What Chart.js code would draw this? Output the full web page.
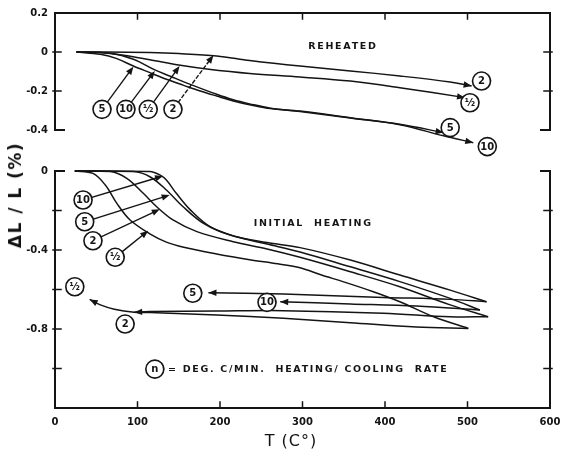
<!DOCTYPE html>
<html>
<head>
<meta charset="utf-8">
<script src="https://cdn.jsdelivr.net/npm/chart.js@4.4.0/dist/chart.umd.min.js"></script>
<style>
  html, body { margin: 0; padding: 0; background: #fff; }
  #wrap { position: relative; width: 563px; height: 459px; overflow: hidden; }
  canvas { position: absolute; left: 0; }
  #c-top { top: 0; }
  #c-bot { top: 150px; }
  .ttl { position: absolute; color: #111; white-space: nowrap; font-family: "DejaVu Sans", sans-serif; }
  #ytitle { left: 15px; top: 195px; transform: translate(-50%, -50%) rotate(-90deg); font-weight: bold; font-size: 17px; letter-spacing: 1.5px; }
  #xtitle { left: 291px; top: 440px; transform: translate(-50%, -50%); font-size: 16px; letter-spacing: 1px; }
</style>
</head>
<body>
<div id="wrap">
  <canvas id="c-top" width="563" height="170" style="width:563px;height:170px"></canvas>
  <canvas id="c-bot" width="563" height="309" style="width:563px;height:309px"></canvas>
  <div class="ttl" id="ytitle">ΔL / L (%)</div>
  <div class="ttl" id="xtitle">T (C°)</div>
</div>
<script>
"use strict";

// ── Upper panel: reheated (T in °C, ΔL/L in %) ──────────────────────────────
const RH2_T    = [26, 60, 115, 150, 196, 236, 297, 358, 418, 479, 505];
const RH2_V    = [0, 0, -0.003, -0.008, -0.02, -0.043, -0.072, -0.097, -0.123, -0.154, -0.174];
const RHHALF_T = [26, 55, 83, 115, 152, 184, 236, 297, 358, 418, 497];
const RHHALF_V = [0, -0.003, -0.017, -0.04, -0.068, -0.087, -0.11, -0.128, -0.149, -0.183, -0.234];
const RH5_T    = [26, 55, 75, 95, 115, 135, 156, 176, 196, 216, 236, 261, 297, 358, 418, 471];
const RH5_V    = [0, -0.012, -0.034, -0.072, -0.106, -0.14, -0.171, -0.2, -0.226, -0.251, -0.27, -0.29, -0.303, -0.337, -0.371, -0.413];
const RH10_T   = [26, 67, 95, 121, 139, 164, 196, 216, 236, 261, 297, 358, 418, 471, 507];
const RH10_V   = [0, -0.007, -0.037, -0.092, -0.123, -0.166, -0.217, -0.245, -0.266, -0.288, -0.305, -0.339, -0.373, -0.43, -0.465];

// ── Lower panel: initial heating, then cooling ──────────────────────────────
const HHALF_T = [24, 46, 61, 75, 91, 115, 135, 156, 196, 236, 270, 297, 323, 349, 385, 418, 459, 501];
const HHALF_V = [0, -0.012, -0.071, -0.164, -0.248, -0.318, -0.36, -0.386, -0.42, -0.449, -0.47, -0.49, -0.527, -0.56, -0.61, -0.662, -0.738, -0.797];
const H2_T    = [24, 67, 87, 107, 123, 143, 172, 216, 257, 297, 358, 418, 479, 525];
const H2_V    = [0, -0.003, -0.037, -0.113, -0.18, -0.248, -0.307, -0.358, -0.395, -0.437, -0.51, -0.586, -0.678, -0.738];
const H5_T    = [24, 95, 115, 135, 155, 180, 212, 257, 297, 358, 418, 479, 523];
const H5_V    = [0, -0.003, -0.029, -0.096, -0.18, -0.265, -0.324, -0.362, -0.388, -0.451, -0.527, -0.603, -0.662];
const H10_T   = [24, 115, 127, 135, 147, 164, 188, 220, 257, 297, 358, 418, 479, 515];
const H10_V   = [0, -0.003, -0.02, -0.046, -0.113, -0.197, -0.282, -0.333, -0.37, -0.41, -0.485, -0.56, -0.645, -0.704];

const CHALF_T = [501, 438, 358, 277, 196, 115, 96, 72, 55, 42];
const CHALF_V = [-0.797, -0.79, -0.768, -0.746, -0.729, -0.717, -0.715, -0.70, -0.678, -0.65];
const C2_T    = [525, 479, 398, 277, 196, 115, 96];
const C2_V    = [-0.738, -0.738, -0.72, -0.707, -0.709, -0.712, -0.715];
const C5_T    = [523, 479, 398, 277, 186];
const C5_V    = [-0.662, -0.65, -0.64, -0.623, -0.616];
const C10_T   = [515, 438, 358, 273];
const C10_V   = [-0.704, -0.684, -0.673, -0.662];

// ── Rate labels (circled), with optional pointer arrow ─────────────────────
const TOP_LBL      = ["5", "10", "½", "2", "2", "½", "5", "10"];
const TOP_LBL_T    = [57, 86, 113, 143, 517, 503, 479, 524];
const TOP_LBL_V    = [-0.294, -0.294, -0.294, -0.294, -0.149, -0.26, -0.388, -0.485];
const TOP_PTR_T    = [95, 121, 151, 192, null, null, null, null];
const TOP_PTR_V    = [-0.075, -0.097, -0.072, -0.017, null, null, null, null];
const TOP_PTR_DASH = [false, false, false, true, false, false, false, false];

const BOT_LBL   = ["10", "5", "2", "½", "5", "10", "2", "½", "n"];
const BOT_LBL_T = [34, 36, 46, 73, 167, 257, 85, 24, 121];
const BOT_LBL_V = [-0.147, -0.257, -0.353, -0.437, -0.619, -0.665, -0.775, -0.586, -1.003];
const BOT_PTR_T = [131, 139, 127, 113, null, null, null, null, null];
const BOT_PTR_V = [-0.025, -0.122, -0.194, -0.302, null, null, null, null, null];

// ── Free text in the panels ─────────────────────────────────────────────────
const TOP_TXT   = ["REHEATED"];
const TOP_TXT_T = [349];
const TOP_TXT_V = [0.029];
const BOT_TXT   = ["INITIAL  HEATING", "= DEG. C/MIN.  HEATING/ COOLING  RATE"];
const BOT_TXT_T = [313, 137];
const BOT_TXT_V = [-0.268, -1.003];
const BOT_TXT_ALIGN = ["center", "left"];

const INK = "#141414";

function pts(ts, vs) { return ts.map((t, i) => ({ x: t, y: vs[i] })); }

function line(ts, vs, arrow) {
  return {
    data: pts(ts, vs),
    showLine: true,
    borderColor: INK,
    borderWidth: 1.5,
    pointRadius: 0,
    tension: 0.35,
    clip: false,
    arrowEnd: !!arrow,
  };
}

function arrowHead(ctx, x, y, ang) {
  ctx.save();
  ctx.translate(x, y);
  ctx.rotate(ang);
  ctx.beginPath();
  ctx.moveTo(0, 0);
  ctx.lineTo(-8, -3.2);
  ctx.lineTo(-8, 3.2);
  ctx.closePath();
  ctx.fill();
  ctx.restore();
}

function fmtTick(v) {
  const r = Math.round(v * 10) / 10;
  return r === 0 ? "0" : r.toFixed(1);
}

// ── Frame, inward ticks, curve arrows and labels ────────────────────────────
const decor = {
  id: "decor",
  afterDatasetsDraw(chart, args, o) {
    const ctx = chart.ctx;
    const xs = chart.scales.x, ys = chart.scales.y;
    const { left, right, top, bottom } = chart.chartArea;
    ctx.save();
    ctx.strokeStyle = INK;
    ctx.fillStyle = INK;
    ctx.lineCap = "square";

    // frame
    ctx.lineWidth = 2;
    ctx.beginPath();
    if (o.open === "bottom") {
      ctx.moveTo(left, bottom); ctx.lineTo(left, top); ctx.lineTo(right, top); ctx.lineTo(right, bottom);
      ctx.moveTo(left, bottom); ctx.lineTo(left + 9, bottom);
      ctx.moveTo(right, bottom); ctx.lineTo(right - 9, bottom);
    } else {
      ctx.moveTo(left, top); ctx.lineTo(left, bottom); ctx.lineTo(right, bottom); ctx.lineTo(right, top);
      ctx.moveTo(left, top); ctx.lineTo(left + 9, top);
      ctx.moveTo(right, top); ctx.lineTo(right - 9, top);
    }
    ctx.stroke();

    // ticks
    ctx.lineWidth = 1.5;
    ctx.beginPath();
    o.xTicks.forEach(t => {
      const px = xs.getPixelForValue(t);
      const py = o.open === "bottom" ? top : bottom;
      const d = o.open === "bottom" ? 6 : -6;
      ctx.moveTo(px, py); ctx.lineTo(px, py + d);
    });
    o.yTicks.forEach(v => {
      const py = ys.getPixelForValue(v);
      ctx.moveTo(left - 2, py); ctx.lineTo(left + 6, py);
      ctx.moveTo(right + 2, py); ctx.lineTo(right - 6, py);
    });
    ctx.stroke();

    // arrowheads on curve ends
    chart.data.datasets.forEach((ds, i) => {
      if (!ds.arrowEnd) return;
      const p = chart.getDatasetMeta(i).data;
      const a = p[p.length - 1], b = p[p.length - 2];
      arrowHead(ctx, a.x, a.y, Math.atan2(a.y - b.y, a.x - b.x));
    });

    // circled rate labels and their pointers
    const R = 9;
    o.lbl.forEach((s, i) => {
      const cx = xs.getPixelForValue(o.lblT[i]);
      const cy = ys.getPixelForValue(o.lblV[i]);
      if (o.ptrT[i] !== null) {
        const tx = xs.getPixelForValue(o.ptrT[i]);
        const ty = ys.getPixelForValue(o.ptrV[i]);
        const ang = Math.atan2(ty - cy, tx - cx);
        ctx.lineWidth = 1.4;
        ctx.setLineDash(o.ptrDash && o.ptrDash[i] ? [3, 3] : []);
        ctx.beginPath();
        ctx.moveTo(cx + R * Math.cos(ang), cy + R * Math.sin(ang));
        ctx.lineTo(tx - 6 * Math.cos(ang), ty - 6 * Math.sin(ang));
        ctx.stroke();
        ctx.setLineDash([]);
        arrowHead(ctx, tx, ty, ang);
      }
      ctx.lineWidth = 1.6;
      ctx.beginPath();
      ctx.arc(cx, cy, R, 0, Math.PI * 2);
      ctx.fillStyle = "#fff";
      ctx.fill();
      ctx.stroke();
      ctx.fillStyle = INK;
      ctx.font = "bold 10px 'DejaVu Sans'";
      ctx.textAlign = "center";
      ctx.textBaseline = "middle";
      ctx.fillText(s, cx, cy + 0.5);
    });

    // free text
    ctx.font = "bold 9.5px 'DejaVu Sans'";
    ctx.letterSpacing = "1.7px";
    ctx.textBaseline = "middle";
    o.txt.forEach((s, i) => {
      ctx.textAlign = o.txtAlign ? o.txtAlign[i] : "center";
      ctx.fillText(s, xs.getPixelForValue(o.txtT[i]), ys.getPixelForValue(o.txtV[i]));
    });
    ctx.restore();
  },
};

const TICK_FONT = { family: "DejaVu Sans", size: 10, weight: "bold" };

function baseOptions(pad, yMin, yMax, yLabel, showX) {
  const x = {
    type: "linear", min: 0, max: 600,
    display: showX,
    grid: { display: false, drawTicks: false },
    border: { display: false },
    ticks: { stepSize: 100, color: INK, font: TICK_FONT, padding: 8, maxRotation: 0 },
  };
  if (showX) {
    x.afterFit = s => { s.height = 51; s.paddingLeft = 0; s.paddingRight = 0; };
  }
  return {
    responsive: false,
    animation: false,
    layout: { padding: pad },
    plugins: { legend: { display: false }, tooltip: { enabled: false } },
    scales: {
      x,
      y: {
        type: "linear", min: yMin, max: yMax,
        grid: { display: false, drawTicks: false },
        border: { display: false },
        ticks: { stepSize: 0.2, color: INK, font: TICK_FONT, padding: 7, callback: yLabel },
        afterFit: s => { s.width = 55; },
      },
    },
  };
}

// ── Upper chart ─────────────────────────────────────────────────────────────
const topOpts = baseOptions({ top: 13, right: 13, bottom: 40, left: 0 }, -0.4, 0.2, v => fmtTick(v), false);
topOpts.plugins.decor = {
  open: "bottom",
  xTicks: [100, 200, 300, 400, 500],
  yTicks: [0, -0.2],
  lbl: TOP_LBL, lblT: TOP_LBL_T, lblV: TOP_LBL_V,
  ptrT: TOP_PTR_T, ptrV: TOP_PTR_V, ptrDash: TOP_PTR_DASH,
  txt: TOP_TXT, txtT: TOP_TXT_T, txtV: TOP_TXT_V,
};
new Chart(document.getElementById("c-top"), {
  type: "scatter",
  data: {
    datasets: [
      line(RH2_T, RH2_V, true),
      line(RHHALF_T, RHHALF_V, true),
      line(RH5_T, RH5_V, true),
      line(RH10_T, RH10_V, true),
    ],
  },
  options: topOpts,
  plugins: [decor],
});

// ── Lower chart ─────────────────────────────────────────────────────────────
const botOpts = baseOptions({ top: 21, right: 13, bottom: 0, left: 0 }, -1.2, 0, v => {
  const k = Math.round(v * 10);
  return (k % 4 === 0 && k > -12) ? fmtTick(v) : "";
}, true);
botOpts.plugins.decor = {
  open: "top",
  xTicks: [100, 200, 300, 400, 500],
  yTicks: [-0.2, -0.4, -0.6, -0.8, -1.0],
  lbl: BOT_LBL, lblT: BOT_LBL_T, lblV: BOT_LBL_V,
  ptrT: BOT_PTR_T, ptrV: BOT_PTR_V,
  txt: BOT_TXT, txtT: BOT_TXT_T, txtV: BOT_TXT_V, txtAlign: BOT_TXT_ALIGN,
};
new Chart(document.getElementById("c-bot"), {
  type: "scatter",
  data: {
    datasets: [
      line(HHALF_T, HHALF_V, false),
      line(H2_T, H2_V, false),
      line(H5_T, H5_V, false),
      line(H10_T, H10_V, false),
      line(CHALF_T, CHALF_V, true),
      line(C2_T, C2_V, true),
      line(C5_T, C5_V, true),
      line(C10_T, C10_V, true),
    ],
  },
  options: botOpts,
  plugins: [decor],
});
</script>
</body>
</html>
